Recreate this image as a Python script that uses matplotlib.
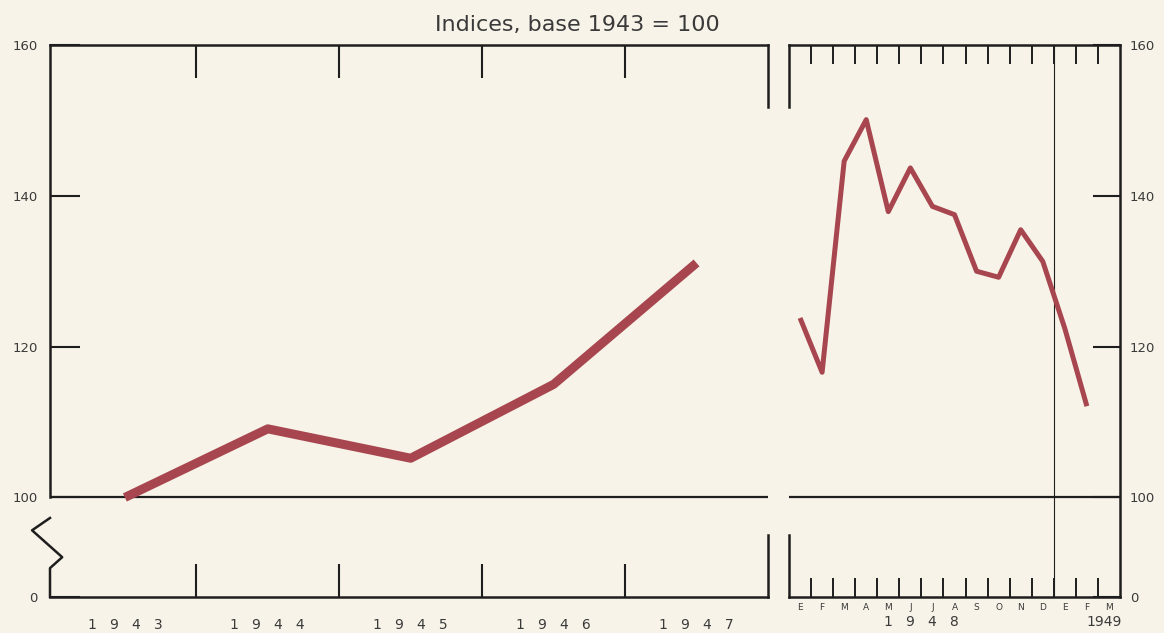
import numpy as np
import matplotlib.pyplot as plt
from matplotlib.ticker import FixedLocator, NullFormatter

# annual indices, base 1943 = 100
years = [1943, 1944, 1945, 1946, 1947]
annual = [100.0, 109.1, 105.2, 115.0, 131.1]

# monthly indices, Jan 1948 - Feb 1949 (Spanish month initials)
month_labels = ['E', 'F', 'M', 'A', 'M', 'J', 'J', 'A', 'S', 'O', 'N', 'D', 'E', 'F', 'M']
monthly = [123.8, 116.6, 144.6, 150.1, 137.9, 143.7, 138.6, 137.5,
           130.0, 129.2, 135.5, 131.3, 122.4, 112.1]

ytick_vals = [0, 100, 120, 140, 160]

bg = '#f8f3e8'
red = '#a8464f'
ink = '#1e1e1e'
txt = '#3a3a3a'

plt.rcParams['font.family'] = ['DejaVu Sans']


# broken y axis: 0-100 squeezed, 100-160 at full scale
def fwd(v):
    v = np.asarray(v, dtype=float)
    return np.where(v >= 100, v - 100, (v - 100) * 0.132)


def inv(t):
    t = np.asarray(t, dtype=float)
    return np.where(t >= 0, t + 100, t / 0.132 + 100)


fig = plt.figure(figsize=(11.64, 6.33), dpi=100, facecolor=bg)
ax1 = fig.add_axes([50 / 1164, 1 - 597 / 633, 718 / 1164, 552 / 633])
ax2 = fig.add_axes([789 / 1164, 1 - 597 / 633, 331 / 1164, 552 / 633])

for ax in (ax1, ax2):
    ax.set_facecolor(bg)
    ax.set_yscale('function', functions=(fwd, inv))
    ax.set_ylim(0, 160)
    ax.yaxis.set_major_locator(FixedLocator(ytick_vals))
    ax.yaxis.set_minor_locator(FixedLocator([]))
    ax.yaxis.set_major_formatter(plt.FixedFormatter([str(v) for v in ytick_vals]))
    ax.axhline(100, color=ink, lw=1.6, zorder=2)
    for s in ax.spines.values():
        s.set_color(ink)
        s.set_linewidth(1.8)

# ---- left panel: annual
ax1.plot(years, annual, color=red, lw=6.5, solid_capstyle='butt', zorder=3)
ax1.set_xlim(1942.476, 1947.5)
ax1.xaxis.set_major_locator(FixedLocator([1943.5, 1944.5, 1945.5, 1946.5]))
ax1.xaxis.set_major_formatter(NullFormatter())
ax1.xaxis.set_minor_locator(FixedLocator(years))
ax1.xaxis.set_minor_formatter(plt.FixedFormatter(['   '.join(str(y)) for y in years]))
ax1.tick_params(axis='x', which='major', direction='in', top=True, bottom=True,
                length=23.5, width=1.5, color=ink)
ax1.tick_params(axis='x', which='minor', length=0, pad=15, labelsize=10, labelcolor=txt)
ax1.tick_params(axis='y', direction='in', left=True, right=False, length=21.5,
                width=1.5, color=ink, pad=9, labelsize=9.5, labelcolor=txt)

ax1.spines['left'].set_visible(False)
ax1.spines['right'].set_visible(False)
yt1 = ax1.get_yaxis_transform()
ax1.plot([0, 0], [100, 160], color=ink, lw=1.8, transform=yt1, clip_on=False, zorder=4)
ax1.plot([0, 0, 0.017, -0.025, 0], [0, 29, 40, 67, 79.4], color=ink, lw=1.8,
         transform=yt1, clip_on=False, zorder=4)
ax1.plot([1, 1], [151.8, 160], color=ink, lw=1.8, transform=yt1, clip_on=False, zorder=4)
ax1.plot([1, 1], [0, 62.3], color=ink, lw=1.8, transform=yt1, clip_on=False, zorder=4)

# ---- right panel: monthly
mx = np.arange(len(monthly))
ax2.plot(mx, monthly, color=red, lw=3.6, solid_capstyle='butt', zorder=3)
ax2.set_xlim(-0.5, len(month_labels) - 0.5)
ax2.xaxis.set_major_locator(FixedLocator(np.arange(len(month_labels) - 1) + 0.5))
ax2.xaxis.set_major_formatter(NullFormatter())
ax2.xaxis.set_minor_locator(FixedLocator(np.arange(len(month_labels))))
ax2.xaxis.set_minor_formatter(plt.FixedFormatter(month_labels))
ax2.tick_params(axis='x', which='major', direction='in', top=True, bottom=True,
                length=14, width=1.4, color=ink)
ax2.tick_params(axis='x', which='minor', length=0, pad=4, labelsize=6.5, labelcolor=txt)
ax2.tick_params(axis='y', direction='in', left=False, right=True, labelleft=False,
                labelright=True, length=19.5, width=1.5, color=ink, pad=7,
                labelsize=9.5, labelcolor=txt)
ax2.axvline(11.5, color=ink, lw=0.8, zorder=2)

ax2.spines['left'].set_visible(False)
yt2 = ax2.get_yaxis_transform()
ax2.plot([0, 0], [151.8, 160], color=ink, lw=1.8, transform=yt2, clip_on=False, zorder=4)
ax2.plot([0, 0], [0, 62.3], color=ink, lw=1.8, transform=yt2, clip_on=False, zorder=4)

xt2 = ax2.get_xaxis_transform()
ax2.text(5.5, -0.045, '1   9   4   8', transform=xt2, ha='center', va='center',
         fontsize=10, color=txt)
ax2.text(13.8, -0.045, '1949', transform=xt2, ha='center', va='center',
         fontsize=10, color=txt)

fig.text(577 / 1164, 1 - 25 / 633, 'Indices, base 1943 = 100', ha='center', va='center',
         fontsize=16, color=txt, family=['Liberation Sans Narrow', 'DejaVu Sans'])

fig.savefig('out.png', dpi=100, facecolor=bg)
